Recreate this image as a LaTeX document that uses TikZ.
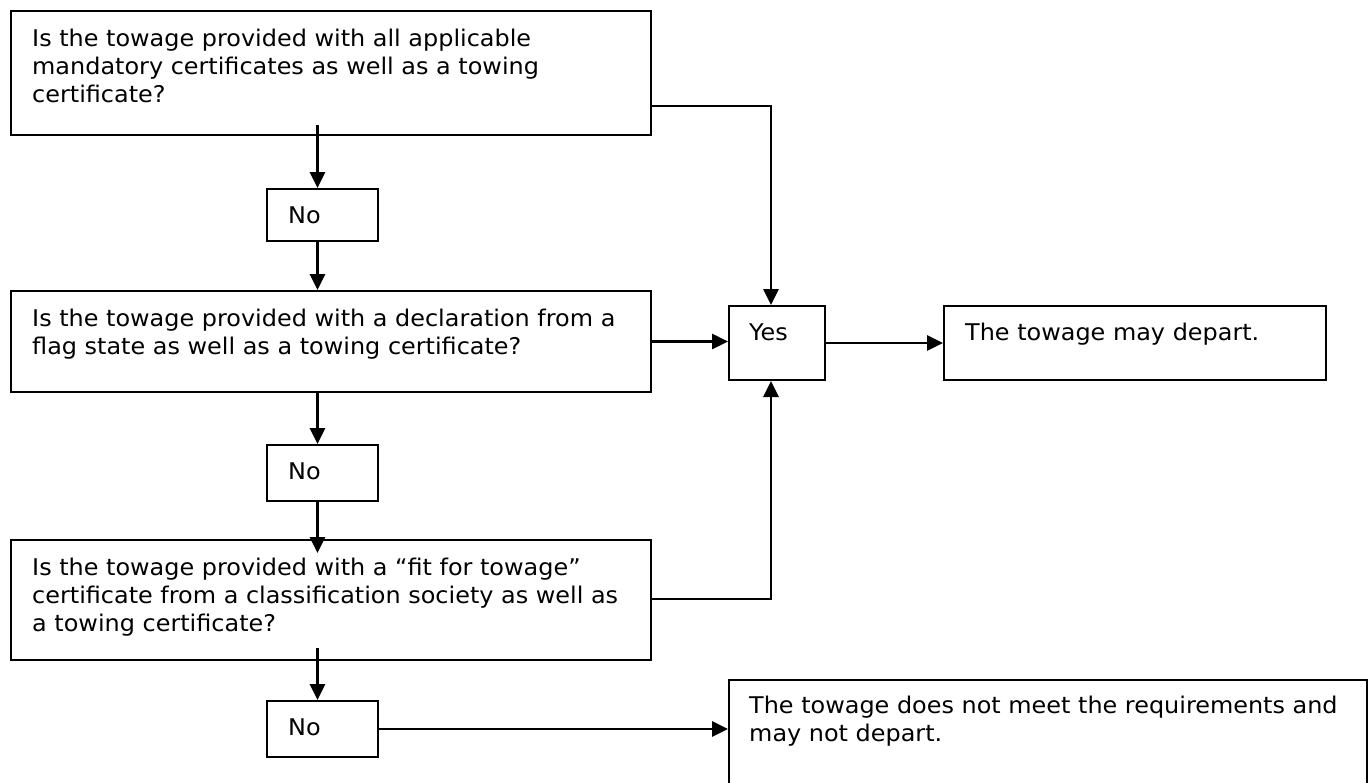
\documentclass[tikz,border=0pt]{standalone}
\usepackage{fontspec}
\setmainfont[FakeStretch=1.04]{DejaVu Sans}
\usetikzlibrary{arrows.meta,calc}
\begin{document}
\begin{tikzpicture}[x=1pt,y=-1pt,
  box/.style={draw, line width=2pt, inner sep=0pt, anchor=north west},
  txt/.style={anchor=north west, inner sep=0pt, align=left, font=\fontsize{23}{28}\selectfont},
  stxt/.style={anchor=base west, inner sep=0pt, font=\fontsize{23}{28}\selectfont},
  arr/.style={line width=2.8pt, -{Triangle[length=16pt,width=15pt]}}]
\useasboundingbox (0,0) rectangle (1370,782);
\clip (0,0) rectangle (1370,782);
% boxes
\node[box, minimum width=640pt, minimum height=124pt] (b1) at (10,10) {};
\node[box, minimum width=640pt, minimum height=101pt] (b2) at (10,290) {};
\node[box, minimum width=640pt, minimum height=120pt] (b3) at (10,539) {};
\node[box, minimum width=111pt, minimum height=52pt] (no1) at (266,188) {};
\node[box, minimum width=111pt, minimum height=56pt] (no2) at (266,444) {};
\node[box, minimum width=111pt, minimum height=56pt] (no3) at (266,700) {};
\node[box, minimum width=96pt, minimum height=74pt] (yes) at (728,305) {};
\node[box, minimum width=382pt, minimum height=74pt] (dep) at (943,305) {};
\node[box, minimum width=638pt, minimum height=130pt] (fin) at (728,679) {};
% texts
\node[txt] (t1) at ($(b1.north west)+(22,18.5)$) {Is the towage provided with all applicable\\mandatory certificates as well as a towing\\certificate?};
\node[txt] (t2) at ($(b2.north west)+(22,18.5)$) {Is the towage provided with a declaration from a\\flag state as well as a towing certificate?};
\node[txt] (t3) at ($(b3.north west)+(22,18.5)$) {Is the towage provided with a “fit for towage”\\certificate from a classification society as well as\\a towing certificate?};
\node[stxt] (tn1) at ($(no1.north west)+(22,35)$) {No};
\node[stxt] (tn2) at ($(no2.north west)+(22,35)$) {No};
\node[stxt] (tn3) at ($(no3.north west)+(22,35)$) {No};
\node[stxt] (ty) at ($(yes.north west)+(21,35)$) {Yes};
\node[stxt] (td) at ($(dep.north west)+(22,35)$) {The towage may depart.};
\node[txt] (tf) at ($(fin.north west)+(21,16.5)$) {The towage does not meet the requirements and\\may not depart.};
% connectors
\draw[arr] ([xshift=-5pt,yshift=11pt]no1.north |- b1.south) -- ([xshift=-5pt]no1.north);
\draw[arr] ([xshift=-5pt]no1.south) -- ([xshift=-5pt]no1.south |- b2.north);
\draw[arr] ([xshift=-5pt]no2.north |- b2.south) -- ([xshift=-5pt]no2.north);
\draw[arr] ([xshift=-5pt]no2.south) -- ([xshift=-5pt,yshift=-14pt]no2.south |- b3.north);
\draw[arr] ([xshift=-5pt,yshift=13pt]no3.north |- b3.south) -- ([xshift=-5pt]no3.north);
\draw[arr] ($(b1.north east)+(0,96)$) -| ([xshift=-6pt]yes.north);
\draw[arr] ($(b3.north east)+(0,60)$) -| ([xshift=-6pt]yes.south);
\draw[arr] (b2.east) -- (b2.east -| yes.west);
\draw[arr] (yes.east) -- (yes.east -| dep.west);
\draw[arr] (no3.east) -- (no3.east -| fin.west);
\end{tikzpicture}
\end{document}
